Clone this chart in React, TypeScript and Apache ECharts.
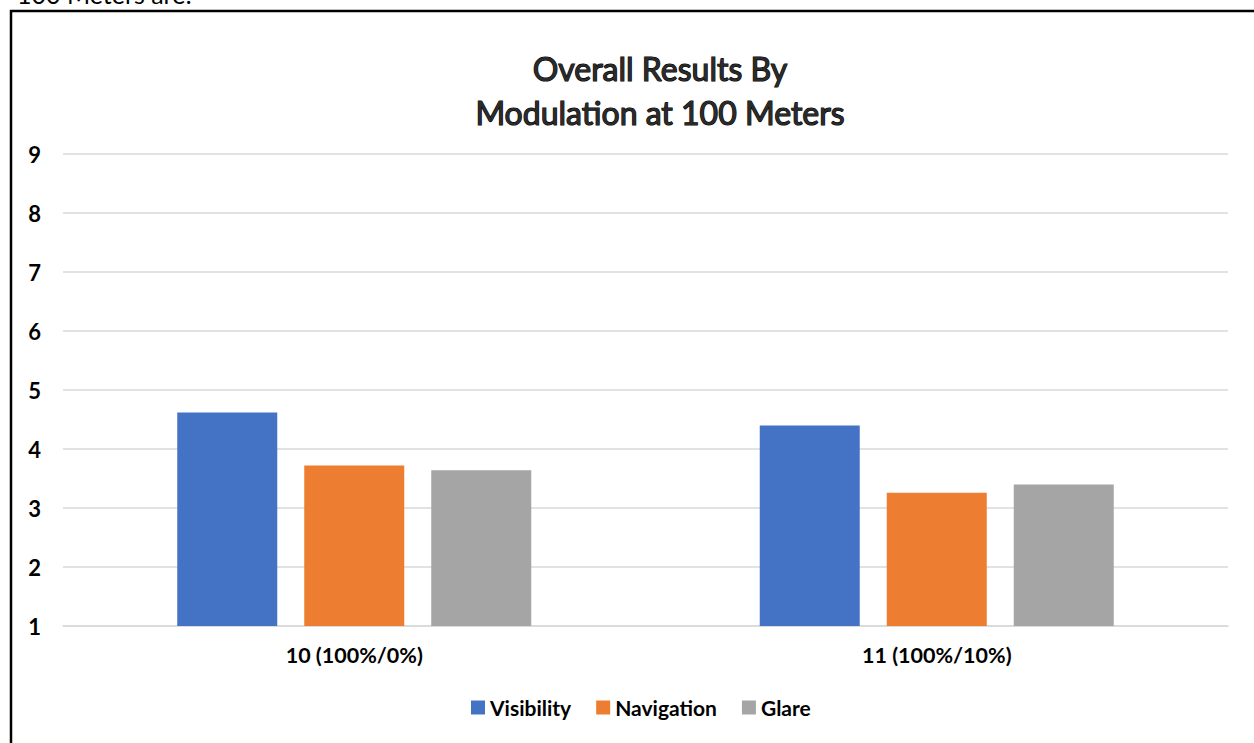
import React, { useEffect, useRef } from "react";
import * as echarts from "echarts";

const categories = ["10 (100%/0%)", "11 (100%/10%)"];
const visibility = [4.62, 4.4];
const navigation = [3.72, 3.26];
const glare = [3.64, 3.4];
const seriesNames = ["Visibility", "Navigation", "Glare"];
const colors = ["#4472C4", "#ED7D31", "#A5A5A5"];
const titleLines = ["Overall Results By", "Modulation at 100 Meters"];
const FONT = "Lato, 'Open Sans', sans-serif";

export default function App() {
  const ref = useRef<HTMLDivElement>(null);
  useEffect(() => {
    if (!ref.current) return;
    const chart = echarts.init(ref.current, null, { renderer: "svg" });
    const values = [visibility, navigation, glare];
    chart.setOption({
      animation: false,
      backgroundColor: "#ffffff",
      title: {
        text: titleLines.join("\n"),
        left: 655,
        textAlign: "center",
        top: 41,
        textStyle: {
          fontFamily: FONT,
          fontSize: 32,
          fontWeight: "normal",
          color: "#2a2a2a",
          textBorderColor: "#000",
          textBorderWidth: 1.2,
          lineHeight: 44,
        },
      },
      legend: {
        bottom: 20,
        left: 466,
        itemWidth: 14,
        itemHeight: 14,
        itemGap: 25,
        icon: "rect",
        data: seriesNames,
        textStyle: { fontFamily: FONT, fontSize: 21, fontWeight: "bold", color: "#000" },
      },
      grid: { left: 63, right: 26, top: 154, bottom: 117, containLabel: false },
      xAxis: {
        type: "category",
        data: categories,
        axisLine: { show: true, lineStyle: { color: "#D9D9D9", width: 1.5 } },
        axisTick: { show: false },
        axisLabel: {
          fontFamily: FONT,
          fontSize: 21.5,
          fontWeight: "bold",
          color: "#000",
          margin: 18,
        },
      },
      yAxis: {
        type: "value",
        min: 1,
        max: 9,
        interval: 1,
        axisLine: { show: false },
        axisTick: { show: false },
        splitLine: { lineStyle: { color: "#D9D9D9", width: 1.5 } },
        axisLabel: {
          fontFamily: FONT,
          fontSize: 22,
          fontWeight: "bold",
          color: "#000",
          margin: 22,
        },
      },
      series: seriesNames.map((name, i) => ({
        name,
        type: "bar",
        data: values[i],
        barWidth: 100,
        barGap: "27%",
        itemStyle: { color: colors[i] },
      })),
      graphic: [
        {
          type: "text",
          left: 17,
          top: -19,
          style: {
            text: "100 Meters are:",
            font: "25px " + FONT,
            fill: "#000",
          },
        },
        {
          type: "line",
          shape: { x1: 11, y1: 10, x2: 11, y2: 743 },
          style: { stroke: "#000", lineWidth: 2.5 },
        },
        {
          type: "line",
          shape: { x1: 10, y1: 11, x2: 1254, y2: 11 },
          style: { stroke: "#000", lineWidth: 2.5 },
        },
      ],
    });
    return () => chart.dispose();
  }, []);
  return (
    <div
      ref={ref}
      style={{ position: "absolute", left: 0, top: 0, width: 1254, height: 743 }}
    />
  );
}
